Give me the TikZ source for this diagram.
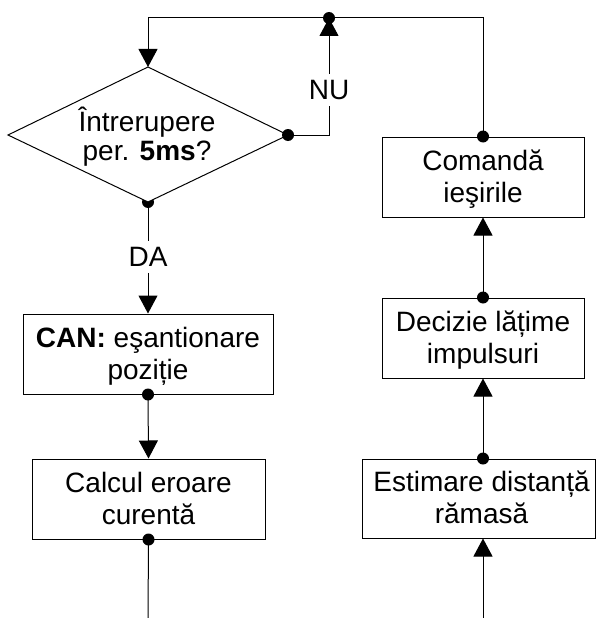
\documentclass[tikz,border=0pt]{standalone}
\usepackage{fontspec}
\setmainfont{Liberation Sans}
\usetikzlibrary{arrows.meta}
\newcommand\sst{\rule[-7pt]{0pt}{28pt}}
\begin{document}
\begin{tikzpicture}[x=1pt,y=-1pt,
  every node/.style={font=\fontsize{28}{32}\selectfont, align=center},
  box/.style={draw, line width=1pt, inner sep=0pt},
  txt/.style={inner sep=0pt},
  lbl/.style={inner sep=6pt},
  conn/.style={line width=1pt},
  arr/.style={conn, -{Triangle[length=18pt,width=19pt]}},
  dot/.style={circle, fill, inner sep=0pt, minimum size=12pt}
]
\useasboundingbox (0,0) rectangle (596,618);
% diamond
\coordinate (dtop) at (148,67);
\coordinate (dleft) at (8,135);
\coordinate (dright) at (288,135);
\coordinate (dbot) at (148,202);
\node[dot] (dotdb) at (dbot) {};
\filldraw[conn, fill=white] (dtop) -- (dright) -- (dbot) -- (dleft) -- cycle;
\node[txt, font=\fontsize{28}{29}\selectfont] (dtext) at (147,137.5) {\sst Întrerupere\\\sst per. \textbf{5ms}?};
% boxes
\node[box, minimum width=202pt, minimum height=80pt] (com) at (483,177) {};
\node[box, minimum width=202pt, minimum height=80pt] (dec) at (483,338) {};
\node[box, minimum width=233pt, minimum height=79pt] (est) at (478.5,498.5) {};
\node[box, minimum width=250pt, minimum height=80pt] (can) at (148,354) {};
\node[box, minimum width=233pt, minimum height=80pt] (cal) at (148.5,499) {};
\node[txt] (comt) at ([yshift=-2pt]com.center) {\sst Comandă\\\sst ieşirile};
\node[txt] (dect) at ([yshift=-2pt]dec.center) {\sst Decizie lățime\\\sst impulsuri};
\node[txt] (estt) at ([yshift=-2pt,xshift=3pt]est.center) {\sst Estimare distanță\\\sst rămasă};
\node[txt] (cant) at ([yshift=-2pt]can.center) {\sst\textbf{CAN:} eşantionare\\\sst poziție};
\node[txt] (calt) at ([yshift=-2pt]cal.center) {\sst Calcul eroare\\\sst curentă};
% labels
\node[lbl] (da) at (148,257) {DA};
\node[lbl] (nu) at (329,90) {NU};
% coordinates
\coordinate (jtop) at (329,18);
\coordinate (ctr) at (483,18);
\coordinate (ctl) at (148,18);
\coordinate (nucorner) at (329,135);
\coordinate (lend) at (148,618);
\coordinate (rstart) at (483,618);
% connectors
\draw[conn] (dbot) -- (da);
\draw[arr] (da) -- (can.north);
\draw[arr] (can.south) -- (cal.north);
\draw[conn] (cal.south) -- (lend);
\draw[conn] (dright) -- (nucorner) -- (nu);
\draw[arr] (nu) -- (jtop);
\draw[arr] (com.north) -- (ctr) -- (ctl) -- (dtop);
\draw[arr] (rstart) -- (rstart |- est.south);
\draw[arr] (rstart |- est.north) -- (dec.south);
\draw[arr] (dec.north) -- (com.south);
% dots
\node[dot] (dotdr) at (dright) {};
\node[dot] (dotj) at (jtop) {};
\node[dot] (dotc) at (com.north) {};
\node[dot] (dotd) at (dec.north) {};
\node[dot] (dote) at (rstart |- est.north) {};
\node[dot] (dotcan) at (can.south) {};
\node[dot] (dotcal) at (cal.south) {};
\end{tikzpicture}
\end{document}
